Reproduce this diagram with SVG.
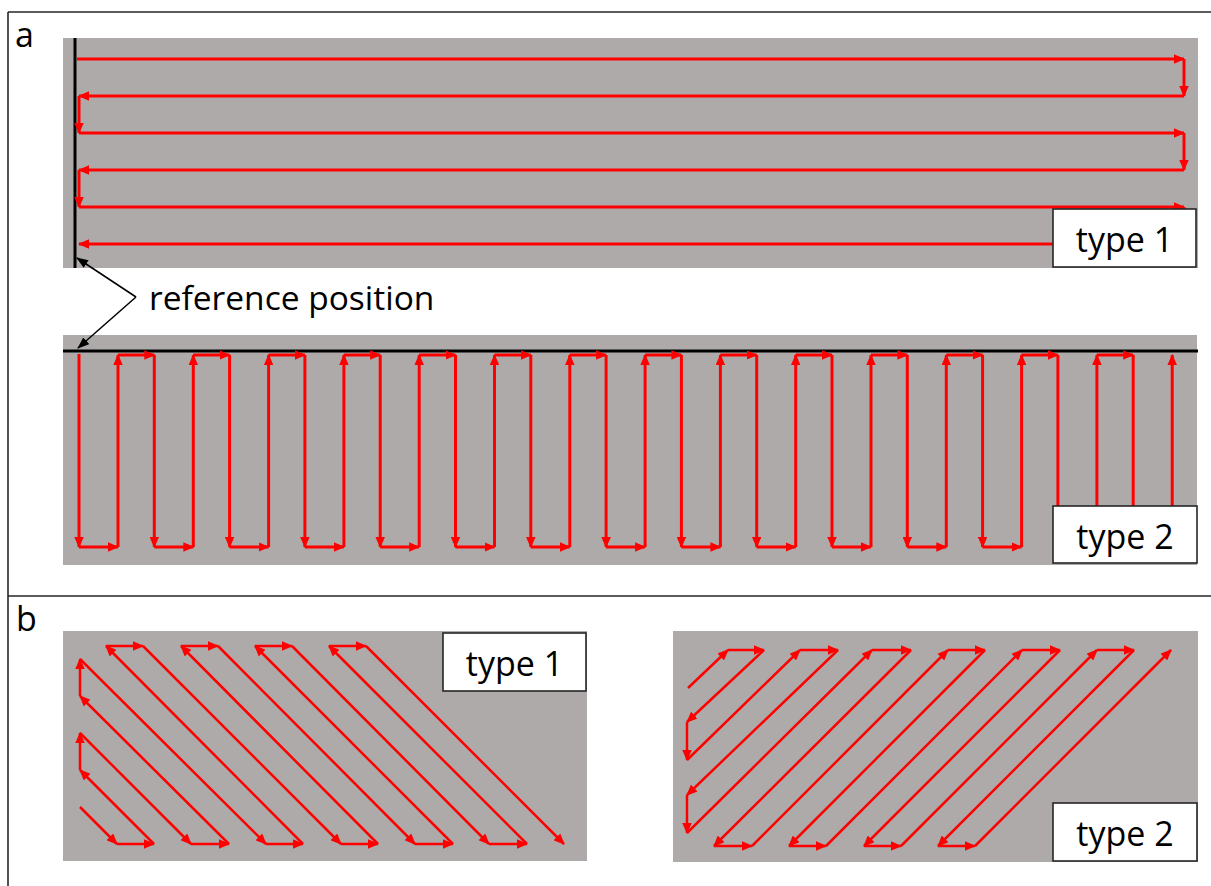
<svg xmlns="http://www.w3.org/2000/svg" width="1211" height="886" viewBox="0 0 1211 886">
<style>
.bg{fill:#AEAAAA}
.frame{stroke:#262626;stroke-width:1.6;fill:none}
.lbl{fill:#fff;stroke:#262626;stroke-width:1.6}
.txt{font-family:"Open Sans","Noto Sans","DejaVu Sans",sans-serif;font-size:34px;fill:#000}
.r{stroke:#FF0000;stroke-width:3;fill:none;marker-end:url(#ar)}
.rb{stroke:#FF0000;stroke-width:2.5;fill:none;marker-end:url(#ar)}
.blk{stroke:#000;stroke-width:3}
.ptr{stroke:#000;stroke-width:1.5;fill:none;marker-end:url(#ak)}
</style>
<defs>
<marker id="ar" markerUnits="userSpaceOnUse" markerWidth="11" markerHeight="9.5" viewBox="0 0 11 9.5" refX="10" refY="4.75" orient="auto">
<path d="M0,0 L11,4.75 L0,9.5 z" fill="#FF0000"/>
</marker>
<marker id="ak" markerUnits="userSpaceOnUse" markerWidth="12" markerHeight="9" viewBox="0 0 12 9" refX="11" refY="4.5" orient="auto">
<path d="M0,0 L12,4.5 L0,9 z" fill="#000"/>
</marker>
</defs>
<rect width="1211" height="886" fill="#fff"/>
<g id="frame">
<line class="frame" x1="8" y1="12" x2="8" y2="886"/>
<line class="frame" x1="8" y1="12" x2="1211" y2="12"/>
<line class="frame" x1="8" y1="596" x2="1211" y2="596"/>
<text class="txt" x="15" y="47">a</text>
<text class="txt" x="16" y="631">b</text>
</g>
<g id="panel-a-type1">
<rect class="bg" x="63" y="38" width="1135" height="230"/>
<line class="blk" x1="75" y1="38" x2="75" y2="268"/>
</g>
<g id="panel-a-type2">
<rect class="bg" x="63" y="335" width="1134" height="230"/>
<line class="blk" x1="63" y1="351" x2="1198" y2="351"/>
</g>
<g id="panel-b-type1">
<rect class="bg" x="63" y="631" width="524" height="230"/>
</g>
<g id="panel-b-type2">
<rect class="bg" x="673" y="631" width="525" height="231"/>
</g>
<g id="connectors">
<!-- a type 1 -->
<line class="r" x1="77" y1="59" x2="1184" y2="59"/>
<line class="r" x1="1184" y1="59" x2="1184" y2="96"/>
<line class="r" x1="1184" y1="96" x2="79" y2="96"/>
<line class="r" x1="79" y1="96" x2="79" y2="133"/>
<line class="r" x1="79" y1="133" x2="1184" y2="133"/>
<line class="r" x1="1184" y1="133" x2="1184" y2="170"/>
<line class="r" x1="1184" y1="170" x2="79" y2="170"/>
<line class="r" x1="79" y1="170" x2="79" y2="207"/>
<line class="r" x1="79" y1="207" x2="1184" y2="207"/>
<line class="r" x1="1184" y1="207" x2="1184" y2="244"/>
<line class="r" x1="1184" y1="244" x2="79" y2="244"/>
<!-- a type 2 -->
<line class="r" x1="79" y1="354" x2="79" y2="547"/>
<line class="r" x1="79" y1="547" x2="118" y2="547"/>
<line class="r" x1="118" y1="547" x2="118" y2="355"/>
<line class="r" x1="118" y1="355" x2="154.3" y2="355"/>
<line class="r" x1="154.3" y1="355" x2="154.3" y2="547"/>
<line class="r" x1="154.3" y1="547" x2="193.3" y2="547"/>
<line class="r" x1="193.3" y1="547" x2="193.3" y2="355"/>
<line class="r" x1="193.3" y1="355" x2="229.6" y2="355"/>
<line class="r" x1="229.6" y1="355" x2="229.6" y2="547"/>
<line class="r" x1="229.6" y1="547" x2="268.6" y2="547"/>
<line class="r" x1="268.6" y1="547" x2="268.6" y2="355"/>
<line class="r" x1="268.6" y1="355" x2="304.9" y2="355"/>
<line class="r" x1="304.9" y1="355" x2="304.9" y2="547"/>
<line class="r" x1="304.9" y1="547" x2="343.9" y2="547"/>
<line class="r" x1="343.9" y1="547" x2="343.9" y2="355"/>
<line class="r" x1="343.9" y1="355" x2="380.2" y2="355"/>
<line class="r" x1="380.2" y1="355" x2="380.2" y2="547"/>
<line class="r" x1="380.2" y1="547" x2="419.2" y2="547"/>
<line class="r" x1="419.2" y1="547" x2="419.2" y2="355"/>
<line class="r" x1="419.2" y1="355" x2="455.5" y2="355"/>
<line class="r" x1="455.5" y1="355" x2="455.5" y2="547"/>
<line class="r" x1="455.5" y1="547" x2="494.5" y2="547"/>
<line class="r" x1="494.5" y1="547" x2="494.5" y2="355"/>
<line class="r" x1="494.5" y1="355" x2="530.8" y2="355"/>
<line class="r" x1="530.8" y1="355" x2="530.8" y2="547"/>
<line class="r" x1="530.8" y1="547" x2="569.8" y2="547"/>
<line class="r" x1="569.8" y1="547" x2="569.8" y2="355"/>
<line class="r" x1="569.8" y1="355" x2="606.1" y2="355"/>
<line class="r" x1="606.1" y1="355" x2="606.1" y2="547"/>
<line class="r" x1="606.1" y1="547" x2="645.1" y2="547"/>
<line class="r" x1="645.1" y1="547" x2="645.1" y2="355"/>
<line class="r" x1="645.1" y1="355" x2="681.4" y2="355"/>
<line class="r" x1="681.4" y1="355" x2="681.4" y2="547"/>
<line class="r" x1="681.4" y1="547" x2="720.4" y2="547"/>
<line class="r" x1="720.4" y1="547" x2="720.4" y2="355"/>
<line class="r" x1="720.4" y1="355" x2="756.7" y2="355"/>
<line class="r" x1="756.7" y1="355" x2="756.7" y2="547"/>
<line class="r" x1="756.7" y1="547" x2="795.7" y2="547"/>
<line class="r" x1="795.7" y1="547" x2="795.7" y2="355"/>
<line class="r" x1="795.7" y1="355" x2="832" y2="355"/>
<line class="r" x1="832" y1="355" x2="832" y2="547"/>
<line class="r" x1="832" y1="547" x2="871" y2="547"/>
<line class="r" x1="871" y1="547" x2="871" y2="355"/>
<line class="r" x1="871" y1="355" x2="907.3" y2="355"/>
<line class="r" x1="907.3" y1="355" x2="907.3" y2="547"/>
<line class="r" x1="907.3" y1="547" x2="946.3" y2="547"/>
<line class="r" x1="946.3" y1="547" x2="946.3" y2="355"/>
<line class="r" x1="946.3" y1="355" x2="982.6" y2="355"/>
<line class="r" x1="982.6" y1="355" x2="982.6" y2="547"/>
<line class="r" x1="982.6" y1="547" x2="1021.6" y2="547"/>
<line class="r" x1="1021.6" y1="547" x2="1021.6" y2="355"/>
<line class="r" x1="1021.6" y1="355" x2="1057.9" y2="355"/>
<line class="r" x1="1057.9" y1="355" x2="1057.9" y2="547"/>
<line class="r" x1="1057.9" y1="547" x2="1096.9" y2="547"/>
<line class="r" x1="1096.9" y1="547" x2="1096.9" y2="355"/>
<line class="r" x1="1096.9" y1="355" x2="1133.2" y2="355"/>
<line class="r" x1="1133.2" y1="355" x2="1133.2" y2="547"/>
<line class="r" x1="1133.2" y1="547" x2="1172.2" y2="547"/>
<line class="r" x1="1172.2" y1="547" x2="1172.2" y2="355"/>
<!-- b type 1 -->
<line class="rb" x1="80" y1="807" x2="117" y2="844"/>
<line class="rb" x1="117" y1="844" x2="154" y2="844"/>
<line class="rb" x1="154" y1="844" x2="80" y2="770"/>
<line class="rb" x1="80" y1="770" x2="80" y2="733"/>
<line class="rb" x1="80" y1="733" x2="191" y2="844"/>
<line class="rb" x1="191" y1="844" x2="229" y2="844"/>
<line class="rb" x1="229" y1="844" x2="80" y2="696"/>
<line class="rb" x1="80" y1="696" x2="80" y2="659"/>
<line class="rb" x1="80" y1="659" x2="266" y2="844"/>
<line class="rb" x1="266" y1="844" x2="303" y2="844"/>
<line class="rb" x1="303" y1="844" x2="106" y2="646"/>
<line class="rb" x1="106" y1="646" x2="143" y2="646"/>
<line class="rb" x1="143" y1="646" x2="341" y2="844"/>
<line class="rb" x1="341" y1="844" x2="378" y2="844"/>
<line class="rb" x1="378" y1="844" x2="181" y2="646"/>
<line class="rb" x1="181" y1="646" x2="218" y2="646"/>
<line class="rb" x1="218" y1="646" x2="415" y2="844"/>
<line class="rb" x1="415" y1="844" x2="453" y2="844"/>
<line class="rb" x1="453" y1="844" x2="255" y2="646"/>
<line class="rb" x1="255" y1="646" x2="292" y2="646"/>
<line class="rb" x1="292" y1="646" x2="489" y2="844"/>
<line class="rb" x1="489" y1="844" x2="527" y2="844"/>
<line class="rb" x1="527" y1="844" x2="329" y2="646"/>
<line class="rb" x1="329" y1="646" x2="366" y2="646"/>
<line class="rb" x1="366" y1="646" x2="564" y2="844"/>
<!-- b type 2 -->
<line class="rb" x1="688" y1="688" x2="728" y2="650"/>
<line class="rb" x1="728" y1="650" x2="764" y2="650"/>
<line class="rb" x1="764" y1="650" x2="687" y2="722"/>
<line class="rb" x1="687" y1="722" x2="687" y2="760"/>
<line class="rb" x1="687" y1="760" x2="800" y2="650"/>
<line class="rb" x1="800" y1="650" x2="838" y2="650"/>
<line class="rb" x1="838" y1="650" x2="687" y2="795"/>
<line class="rb" x1="687" y1="795" x2="687" y2="833"/>
<line class="rb" x1="687" y1="833" x2="872" y2="650"/>
<line class="rb" x1="872" y1="650" x2="911" y2="650"/>
<line class="rb" x1="911" y1="650" x2="714" y2="846"/>
<line class="rb" x1="714" y1="846" x2="752" y2="846"/>
<line class="rb" x1="752" y1="846" x2="948" y2="650"/>
<line class="rb" x1="948" y1="650" x2="985" y2="650"/>
<line class="rb" x1="985" y1="650" x2="789" y2="846"/>
<line class="rb" x1="789" y1="846" x2="826" y2="846"/>
<line class="rb" x1="826" y1="846" x2="1022" y2="650"/>
<line class="rb" x1="1022" y1="650" x2="1060" y2="650"/>
<line class="rb" x1="1060" y1="650" x2="864" y2="846"/>
<line class="rb" x1="864" y1="846" x2="901" y2="846"/>
<line class="rb" x1="901" y1="846" x2="1097" y2="650"/>
<line class="rb" x1="1097" y1="650" x2="1134" y2="650"/>
<line class="rb" x1="1134" y1="650" x2="938" y2="846"/>
<line class="rb" x1="938" y1="846" x2="975" y2="846"/>
<line class="rb" x1="975" y1="846" x2="1171" y2="650"/>
<!-- reference position pointers -->
<line class="ptr" x1="136" y1="297" x2="77" y2="258"/>
<line class="ptr" x1="136" y1="297" x2="78" y2="348"/>
</g>
<g id="label-ref">
<text class="txt" x="149" y="310" style="font-size:33.5px">reference position</text>
</g>
<g id="label-a1">
<rect class="lbl" x="1053" y="209" width="143" height="58"/>
<text class="txt" x="1124.5" y="252" text-anchor="middle">type 1</text>
</g>
<g id="label-a2">
<rect class="lbl" x="1053" y="506" width="144" height="57"/>
<text class="txt" x="1125" y="549" text-anchor="middle">type 2</text>
</g>
<g id="label-b1">
<rect class="lbl" x="443" y="633" width="143" height="58"/>
<text class="txt" x="514.5" y="676" text-anchor="middle">type 1</text>
</g>
<g id="label-b2">
<rect class="lbl" x="1053" y="803" width="144" height="58"/>
<text class="txt" x="1125" y="846" text-anchor="middle">type 2</text>
</g>
</svg>
